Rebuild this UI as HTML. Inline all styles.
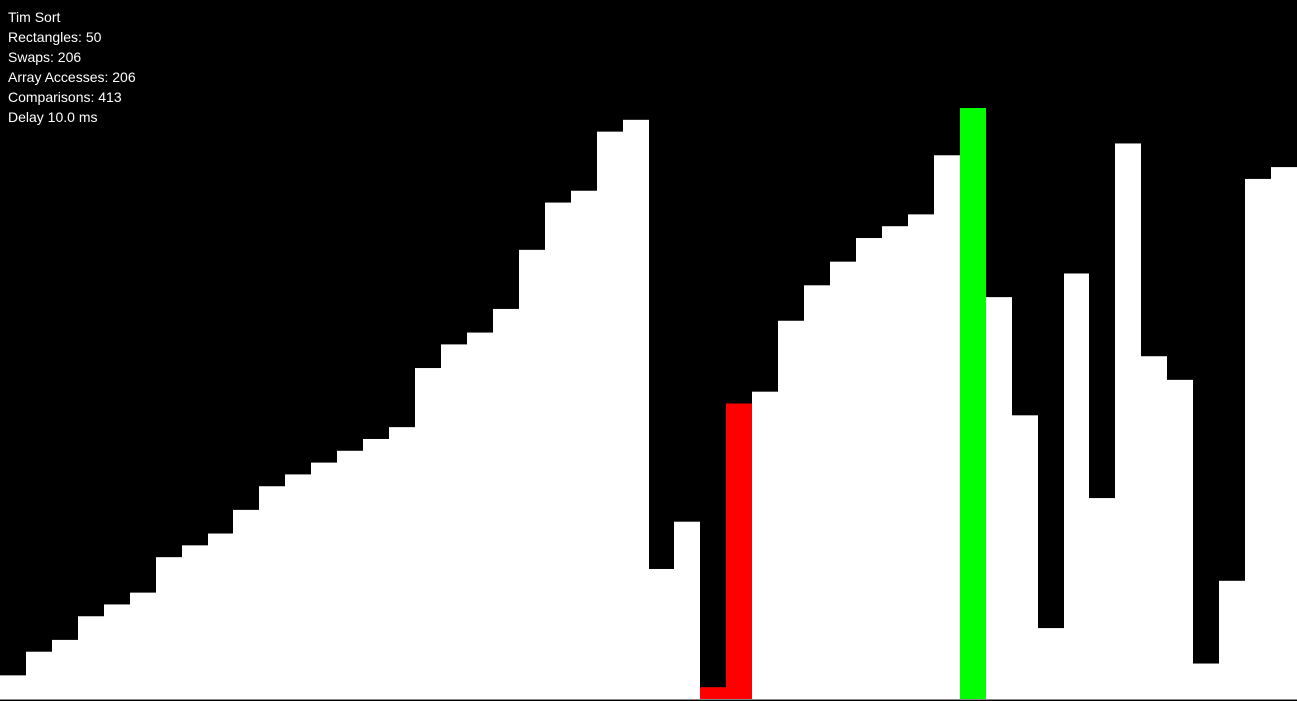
<!DOCTYPE html>
<html><head><meta charset="utf-8">
<style>
html,body{margin:0;padding:0;background:#000;width:1297px;height:701px;overflow:hidden;font-family:"Liberation Sans",sans-serif;}
#info{position:absolute;left:8px;top:7px;color:#fff;font-size:14px;line-height:20px;}
svg{position:absolute;left:0;top:0;}
</style></head>
<body>
<svg id="chart" width="1297" height="701"></svg>
<div id="info">
<div>Tim Sort</div>
<div>Rectangles: 50</div>
<div>Swaps: 206</div>
<div>Array Accesses: 206</div>
<div>Comparisons: 413</div>
<div>Delay 10.0 ms</div>
</div>
<script>
const values = [2,4,5,7,8,9,12,13,14,16,18,19,20,21,22,23,28,30,31,33,38,42,43,48,49,11,15,1,25,26,32,35,37,39,40,41,46,50,34,24,6,36,17,47,29,27,3,10,44,45];
const barStates = {27:'#ff0000',28:'#ff0000',37:'#00ff00'};
const W=1297, baseY=699, unit=591/50;
const bw=W/values.length;
const xScale=i=>i*bw;
const yScale=v=>baseY-v*unit;
const svg=document.getElementById('chart');
const NS='http://www.w3.org/2000/svg';
values.forEach((v,i)=>{
  const r=document.createElementNS(NS,'rect');
  const x0=Math.round(xScale(i)), x1=Math.round(xScale(i+1));
  r.setAttribute('x',x0);
  r.setAttribute('width',x1-x0);
  r.setAttribute('y',yScale(v));
  r.setAttribute('height',baseY-yScale(v));
  r.setAttribute('fill',barStates[i]||'#fff');
  
  
  svg.appendChild(r);
});
const l=document.createElementNS(NS,'line');
l.setAttribute('x1',0);l.setAttribute('x2',W);l.setAttribute('y1',699.5);l.setAttribute('y2',699.5);
l.setAttribute('stroke','#888');l.setAttribute('stroke-width',1);


svg.appendChild(l);
</script>
</body></html>
